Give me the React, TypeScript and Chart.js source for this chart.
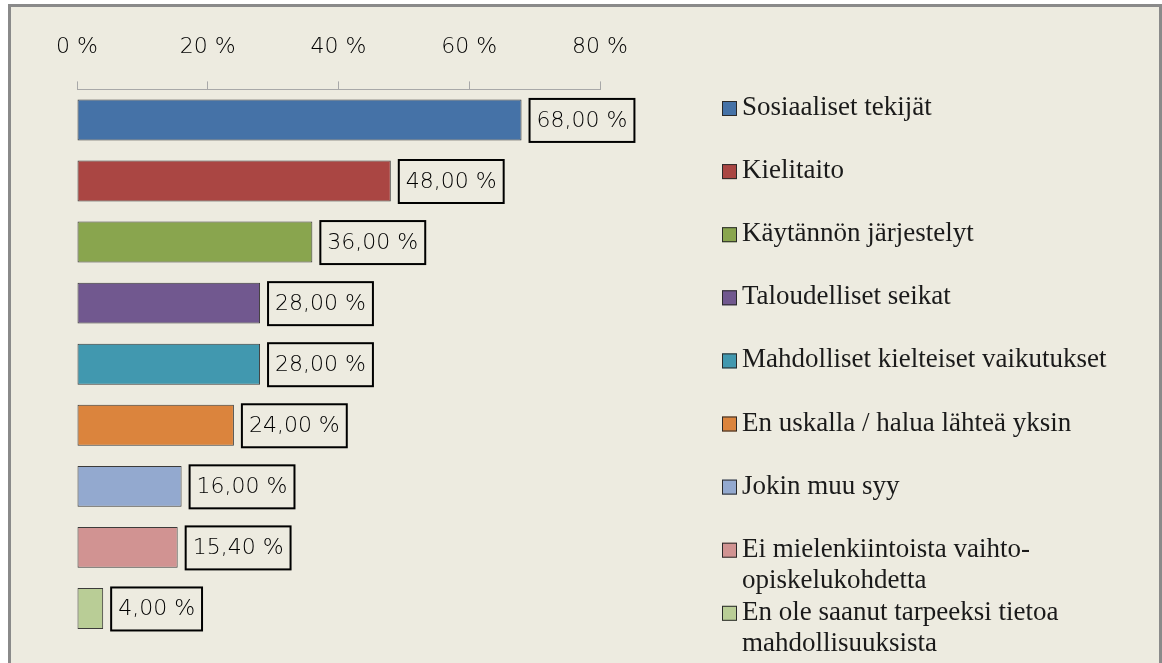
import React, { useEffect, useRef } from 'react';
import { Chart, registerables } from 'chart.js';

Chart.register(...registerables);

const categories = [
  'Sosiaaliset tekijät',
  'Kielitaito',
  'Käytännön järjestelyt',
  'Taloudelliset seikat',
  'Mahdolliset kielteiset vaikutukset',
  'En uskalla / halua lähteä yksin',
  'Jokin muu syy',
  'Ei mielenkiintoista vaihto-opiskelukohdetta',
  'En ole saanut tarpeeksi tietoa mahdollisuuksista',
];

const legendLines = [
  ['Sosiaaliset tekijät'],
  ['Kielitaito'],
  ['Käytännön järjestelyt'],
  ['Taloudelliset seikat'],
  ['Mahdolliset kielteiset vaikutukset'],
  ['En uskalla / halua lähteä yksin'],
  ['Jokin muu syy'],
  ['Ei mielenkiintoista vaihto-', 'opiskelukohdetta'],
  ['En ole saanut tarpeeksi tietoa', 'mahdollisuuksista'],
];

const values = [68, 48, 36, 28, 28, 24, 16, 15.4, 4];

const barColors = [
  '#4572A7', '#AA4643', '#89A54E', '#71588F', '#4198AF',
  '#DB843D', '#93A9CF', '#D19392', '#B9CD96',
];

const axisMin = 0;
const axisMax = 80;
const axisStep = 20;

const BG = '#EDEBE0';
const SANS = "'DejaVu Sans', sans-serif";
const SERIF = "'Liberation Serif', serif";

const fmtPct = (v: number) => v.toFixed(2).replace('.', ',') + ' %';

const framePlugin = {
  id: 'frame',
  beforeDraw(chart: any) {
    const { ctx, width, height } = chart;
    ctx.save();
    ctx.fillStyle = '#ffffff';
    ctx.fillRect(0, 0, width, height);
    ctx.fillStyle = BG;
    ctx.fillRect(8, 4, width - 8, height - 4);
    ctx.strokeStyle = '#8a8a8a';
    ctx.lineWidth = 3;
    ctx.strokeRect(9.5, 5.5, width - 11, height + 10);
    ctx.restore();
  },
};

const labelPlugin = {
  id: 'boxLabels',
  afterDatasetsDraw(chart: any) {
    const { ctx } = chart;
    const meta = chart.getDatasetMeta(0);
    ctx.save();
    ctx.font = `300 22px ${SANS}`;
    ctx.textBaseline = 'middle';
    meta.data.forEach((bar: any, i: number) => {
      const text = fmtPct(values[i]);
      const w = ctx.measureText(text).width;
      const x0 = bar.x + 7;
      const y0 = bar.y - 22;
      const bw = w + 16;
      const bh = 45;
      ctx.fillStyle = BG;
      ctx.fillRect(x0, y0, bw, bh);
      ctx.strokeStyle = '#000000';
      ctx.lineWidth = 2;
      ctx.strokeRect(x0 + 1, y0 + 1, bw - 2, bh - 2);
      ctx.fillStyle = '#000000';
      ctx.fillText(text, x0 + 8, bar.y + 1);
    });
    ctx.restore();
  },
};

const legendPlugin = {
  id: 'sideLegend',
  afterDraw(chart: any) {
    const { ctx } = chart;
    ctx.save();
    ctx.font = `27px ${SERIF}`;
    ctx.textBaseline = 'middle';
    legendLines.forEach((lines, i) => {
      const y = 108 + i * 63.1;
      ctx.fillStyle = barColors[i];
      ctx.fillRect(722, y - 7, 15, 15);
      ctx.strokeStyle = '#2a2a2a';
      ctx.lineWidth = 1;
      ctx.strokeRect(722.5, y - 6.5, 14, 14);
      ctx.fillStyle = '#1a1a1a';
      lines.forEach((line, j) => {
        ctx.fillText(line, 742, y + j * 31.5);
      });
    });
    ctx.restore();
  },
};

export default function App() {
  const ref = useRef<HTMLCanvasElement>(null);

  useEffect(() => {
    const chart = new Chart(ref.current as HTMLCanvasElement, {
      type: 'bar',
      data: {
        labels: categories,
        datasets: [
          {
            data: values,
            backgroundColor: barColors,
            borderColor: 'rgba(40,40,40,0.9)',
            borderWidth: 1,
            borderSkipped: false,
            categoryPercentage: 1,
            barPercentage: 0.67,
          },
        ],
      },
      options: {
        indexAxis: 'y',
        animation: false,
        responsive: false,
        devicePixelRatio: 1,
        layout: { padding: { left: 77, right: 562, top: 13, bottom: 24 } },
        plugins: {
          legend: { display: false },
          tooltip: { enabled: false },
        },
        scales: {
          x: {
            type: 'linear',
            position: 'top',
            min: axisMin,
            max: axisMax,
            ticks: {
              stepSize: axisStep,
              callback: (v: any) => v + ' %',
              font: { family: SANS, size: 22, weight: '300' as any },
              color: '#000000',
              padding: 21,
            },
            grid: {
              drawOnChartArea: false,
              drawTicks: true,
              tickLength: 8,
              color: '#a8a8a8',
            },
            border: { display: true, color: '#a8a8a8', width: 1 },
          },
          y: {
            type: 'category',
            display: false,
          },
        },
      },
      plugins: [framePlugin, labelPlugin, legendPlugin],
    });
    return () => chart.destroy();
  }, []);

  return (
    <div style={{ position: 'absolute', left: 0, top: 0, width: 1162, height: 663 }}>
      <canvas ref={ref} width={1162} height={663} style={{ display: 'block' }} />
    </div>
  );
}
